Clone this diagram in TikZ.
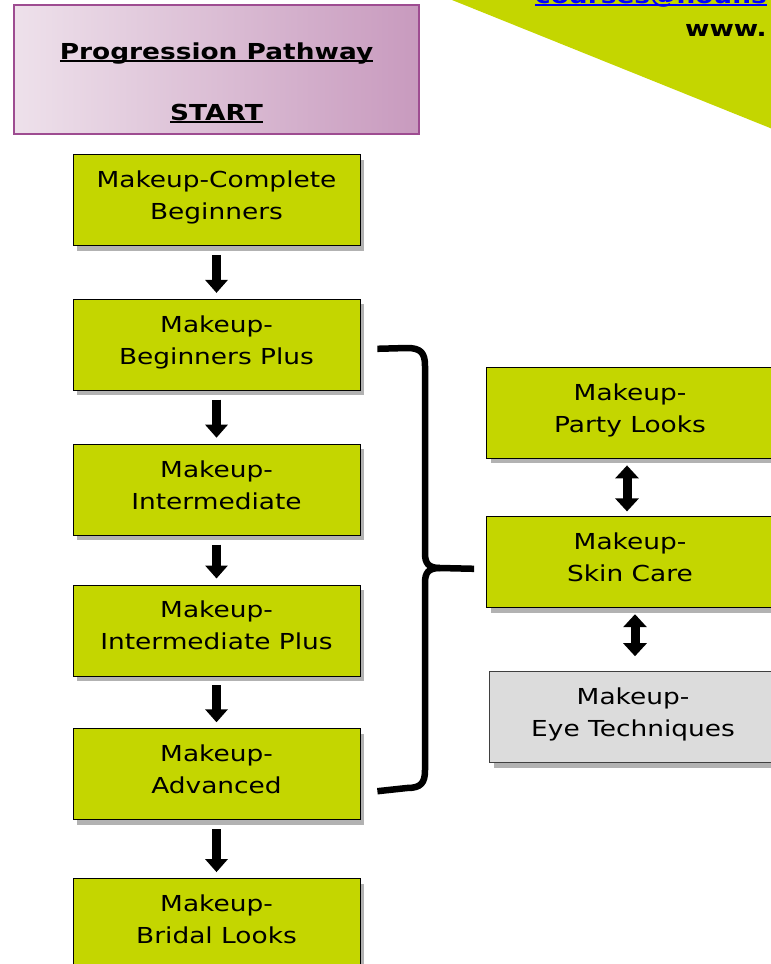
\documentclass[tikz,border=0pt]{standalone}
\usepackage{fontspec}
\setmainfont[FakeStretch=1.2]{DejaVu Sans}
\usepackage{xcolor}
\usepackage{tikz}
\usetikzlibrary{arrows.meta,positioning,shadows,calc}

\definecolor{courselime}{RGB}{196,214,0}
\definecolor{pathpurple}{RGB}{158,76,145}
\definecolor{pathpinkL}{RGB}{238,225,235}
\definecolor{pathpinkR}{RGB}{200,154,190}
\definecolor{optgrey}{RGB}{220,220,220}

\newcommand{\thickul}[1]{\setbox0\hbox{#1}\leavevmode\rlap{\rule[-3pt]{\wd0}{1.8pt}}\box0}

\begin{document}
\begin{tikzpicture}[x=1pt, y=-1pt, node distance=53pt,
  every node/.style={font=\fontsize{22}{32}\selectfont},
  course/.style={rectangle, draw=black, line width=0.8pt, fill=courselime, align=center, minimum width=287pt, minimum height=91pt, inner sep=0pt, execute at begin node=\strut, execute at end node=\strut, drop shadow={shadow xshift=4pt, shadow yshift=-5pt, opacity=0.3, fill=black}},
  optional/.style={course, fill=optgrey, draw=black!75},
  titlebox/.style={rectangle, draw=pathpurple, line width=2pt, left color=pathpinkL, right color=pathpinkR, minimum width=405pt, minimum height=129pt},
  headtext/.style={font=\fontsize{22}{32}\selectfont\bfseries, inner sep=0pt},
  stepdown/.style={line width=9pt, -{Triangle[length=13pt, width=22pt]}},
  stepboth/.style={line width=9pt, {Triangle[length=13pt, width=23pt]}-{Triangle[length=13pt, width=23pt]}},
  bracket/.style={line width=6.5pt, line join=round}]

\useasboundingbox (0,0) rectangle (771,964);
\clip (0,0) rectangle (771,964);

% contact corner
\fill[courselime] (452,0) -- (790,0) -- (790,136) -- cycle;
\node[headtext, anchor=base west, text=blue] (email) at (535,3) {\thickul{courses@houns}};
\node[headtext, anchor=base west] (web) at (685,36) {www.};

% start
\node[titlebox] (title) at (216.5,69.5) {};
\node[headtext, anchor=base] (pathway) at (216.5,59) {\thickul{Progression Pathway}};
\node[headtext, anchor=base] (start) at (216.5,120) {\thickul{START}};

% main pathway
\node[course] (beginners) at (216.5,200) {Makeup-Complete\\Beginners};
\node[course, below=of beginners] (plus) {Makeup-\\Beginners Plus};
\node[course, below=of plus] (intermediate) {Makeup-\\Intermediate};
\node[course, below=49pt of intermediate] (interplus) {Makeup-\\Intermediate Plus};
\node[course, below=52pt of interplus] (advanced) {Makeup-\\Advanced};
\node[course, below=58pt of advanced] (bridal) {Makeup-\\Bridal Looks};

% side courses
\node[course] (party) at (630,412.5) {Makeup-\\Party Looks};
\node[course, below=58pt of party] (skincare) {Makeup-\\Skin Care};
\node[optional, below=63pt of skincare, xshift=3pt] (eyes) {Makeup-\\Eye Techniques};

\foreach \a/\b in {beginners/plus, plus/intermediate, intermediate/interplus, interplus/advanced, advanced/bridal}
  \draw[stepdown, shorten <=9pt, shorten >=6pt] (\a.south) -- (\b.north);

\draw[stepboth, shorten <=7pt, shorten >=5pt] ([xshift=-3pt]party.south) -- ([xshift=-3pt]party.south |- skincare.north);
\draw[stepboth, shorten <=6pt, shorten >=15pt] ([xshift=5pt]skincare.south) -- ([xshift=5pt]skincare.south |- eyes.north);

% brace
\coordinate (bracetop) at ($(plus.east)+(17,4)$);
\coordinate (bracebot) at ($(advanced.east)+(17,17)$);
\coordinate (bracetip) at ($(skincare.west)+(-12,6.5)$);
\draw[bracket] (bracetop) -- (407,348) .. controls (421,348) and (425,353) .. (425,366) -- (425,553) .. controls (425,563) and (428,568) .. (440,568) -- (bracetip);
\draw[bracket] (bracebot) -- (407,788) .. controls (421,788) and (425,783) .. (425,770) -- (425,583) .. controls (425,573) and (428,568) .. (440,568);

\end{tikzpicture}
\end{document}
